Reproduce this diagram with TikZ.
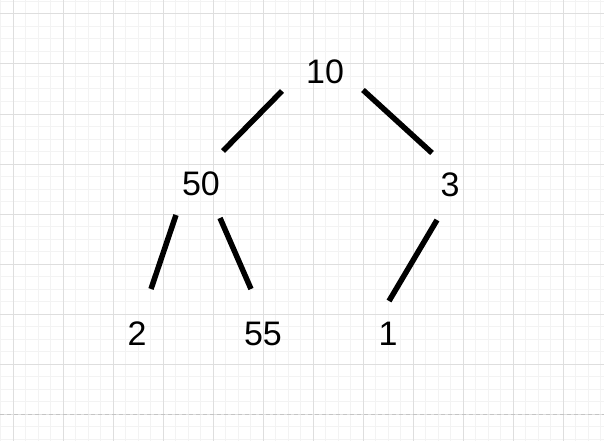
\documentclass[tikz,border=0pt]{standalone}
\usepackage{fontspec}
\setmainfont{Liberation Sans}
\usepackage{tikz}
\usetikzlibrary{positioning}
\definecolor{gridmajor}{HTML}{DEDEDE}
\definecolor{gridminor}{HTML}{F3F3F3}
\definecolor{pagebreak}{HTML}{C4C4C4}
\tikzset{
  num/.style={inner sep=0pt, font=\fontsize{34}{34}\selectfont},
  edge/.style={line width=5.5pt, black}
}

\begin{document}
\begin{tikzpicture}[x=1pt, y=-1pt]
	\useasboundingbox (0,0) rectangle (604,441);
	\fill [white] (0,0) rectangle (604,441);
	% grid
	\foreach \i in {0,...,48} {
		\draw [gridminor, line width=1pt] (0.5+12.5*\i,0) -- (0.5+12.5*\i,441);
	}
	\foreach \j in {0,...,35} {
		\draw [gridminor, line width=1pt] (0,1.5+12.5*\j) -- (604,1.5+12.5*\j);
	}
	\foreach \i in {0,...,11} {
		\draw [gridmajor, line width=1pt] (13+50*\i,0) -- (13+50*\i,441);
	}
	\foreach \j in {0,...,8} {
		\draw [gridmajor, line width=1pt] (0,14+50*\j) -- (604,14+50*\j);
	}
	\draw [pagebreak, line width=1pt, dash pattern=on 4pt off 3pt] (0,414) -- (604,414);
	% tree
	\node [num] (n10) at (325,72) {10};
	\node [num] (n50) at (201,184) {50};
	\node [num] (n3) at (450,185) {3};
	\node [num] (n2) at (137,334) {2};
	\node [num] (n55) at (263,334) {55};
	\node [num] (n1) at (388,334) {1};
	\draw [edge] ([shift={(-43,19)}]n10.center) -- ([shift={(22,-33)}]n50.center);
	\draw [edge] ([shift={(38,18)}]n10.center) -- ([shift={(-18,-32)}]n3.center);
	\draw [edge] ([shift={(-25,31)}]n50.center) -- ([shift={(14,-45)}]n2.center);
	\draw [edge] ([shift={(19,34)}]n50.center) -- ([shift={(-12,-45)}]n55.center);
	\draw [edge] ([shift={(-13,35)}]n3.center) -- ([shift={(1,-33)}]n1.center);
\end{tikzpicture}
\end{document}
